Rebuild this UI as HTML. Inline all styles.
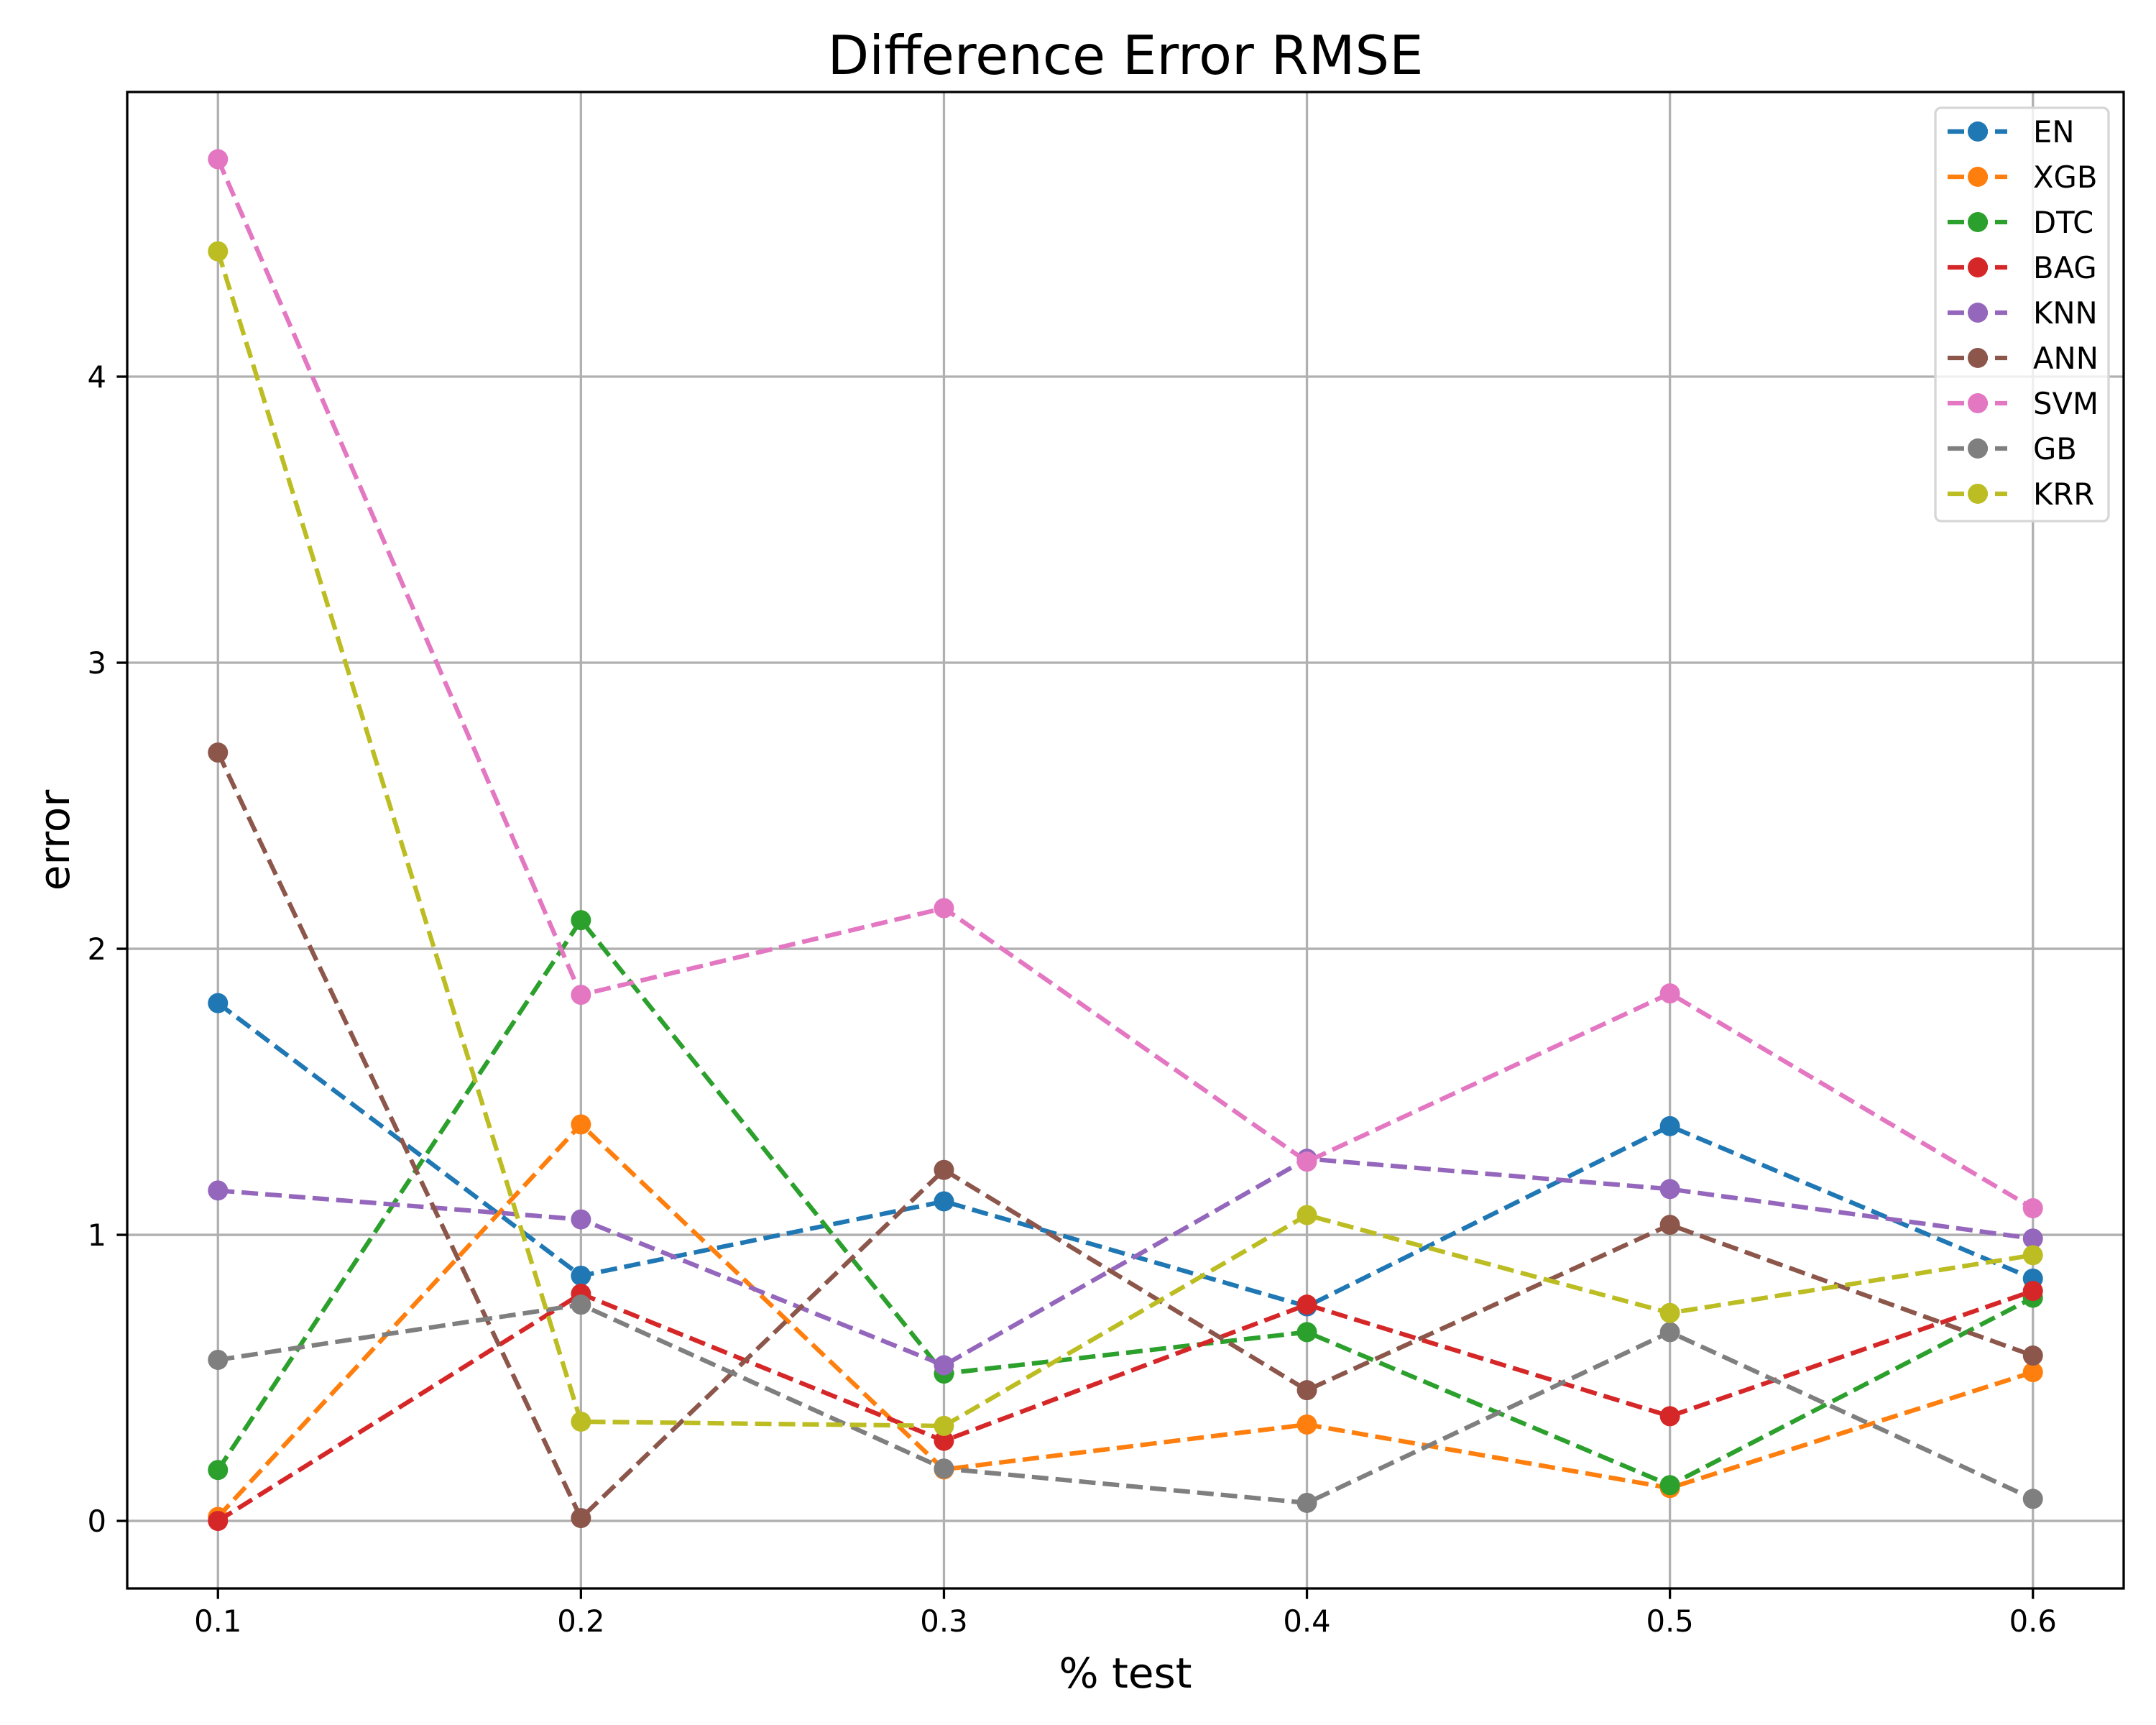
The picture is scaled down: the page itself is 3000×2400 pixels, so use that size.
<!DOCTYPE html>
<html><head><meta charset="utf-8"><style>html,body{margin:0;padding:0;background:#fff}svg{display:block}text{font-family:"DejaVu Sans","Liberation Sans",sans-serif}</style></head>
<body>
<svg id="chart" width="3000" height="2400" viewBox="0 0 3000 2400" xmlns="http://www.w3.org/2000/svg">
<rect x="0" y="0" width="3000" height="2400" fill="#fff"/>
<g id="grid"></g>
<g id="series"></g>
<rect x="177" y="128" width="2778" height="2082" fill="none" stroke="#000" stroke-width="3.3"/>
<g id="ticks"></g>
<text x="1566" y="103" font-size="75" text-anchor="middle">Difference Error RMSE</text>
<text x="1566" y="2348" font-size="58" text-anchor="middle">% test</text>
<text x="0" y="0" font-size="58" text-anchor="middle" transform="translate(96,1169) rotate(-90)">error</text>
<g id="legend"></g>
</svg>
<script>
const xValues = [0.1, 0.2, 0.3, 0.4, 0.5, 0.6];
const xTickLabels = ["0.1","0.2","0.3","0.4","0.5","0.6"];
const yTicks = [0, 1, 2, 3, 4];
const seriesNames = ["EN","XGB","DTC","BAG","KNN","ANN","SVM","GB","KRR"];
const seriesColors = ["#1f77b4","#ff7f0e","#2ca02c","#d62728","#9467bd","#8c564b","#e377c2","#7f7f7f","#bcbd22"];
const EN  = [1.81, 0.857, 1.117, 0.75, 1.38, 0.847];
const XGB = [0.014, 1.386, 0.18, 0.337, 0.115, 0.52];
const DTC = [0.178, 2.10, 0.515, 0.66, 0.125, 0.78];
const BAG = [0.0, 0.794, 0.28, 0.756, 0.366, 0.804];
const KNN = [1.155, 1.054, 0.544, 1.266, 1.16, 0.987];
const ANN = [2.686, 0.01, 1.227, 0.457, 1.035, 0.578];
const SVM = [4.76, 1.839, 2.142, 1.256, 1.844, 1.093];
const GB  = [0.563, 0.756, 0.183, 0.063, 0.66, 0.077];
const KRR = [4.438, 0.347, 0.332, 1.069, 0.727, 0.929];
const seriesData = [EN, XGB, DTC, BAG, KNN, ANN, SVM, GB, KRR];

const NS = "http://www.w3.org/2000/svg";
const L = 177, R = 2955, T = 128, B = 2210;
const xmin = 0.075, xmax = 0.625;
const ymin = -0.236, ymax = 4.995;
function xs(v){ return L + (v - xmin) / (xmax - xmin) * (R - L); }
function ys(v){ return B - (v - ymin) / (ymax - ymin) * (B - T); }
function mk(tag, attrs, parent){ const e = document.createElementNS(NS, tag); for (const k in attrs) e.setAttribute(k, attrs[k]); parent.appendChild(e); return e; }

const grid = document.getElementById('grid');
const ticks = document.getElementById('ticks');
xValues.forEach((v, i) => {
  const x = xs(v);
  const g = mk('line', {x1:x, x2:x, y1:T, y2:B, stroke:'#b0b0b0', 'stroke-width':3.3}, grid);
  
  
  const t = mk('line', {x1:x, x2:x, y1:B, y2:B+14.6, stroke:'#000', 'stroke-width':3.3}, ticks);
  
  
  const lb = mk('text', {x:x, y:B+29+31, 'font-size':41.7, 'text-anchor':'middle'}, ticks);
  lb.textContent = xTickLabels[i];
  
  
});
yTicks.forEach(v => {
  const y = ys(v);
  const g = mk('line', {x1:L, x2:R, y1:y, y2:y, stroke:'#b0b0b0', 'stroke-width':3.3}, grid);
  
  
  const t = mk('line', {x1:L-14.6, x2:L, y1:y, y2:y, stroke:'#000', 'stroke-width':3.3}, ticks);
  
  
  const lb = mk('text', {x:L-29, y:y+15, 'font-size':41.7, 'text-anchor':'end'}, ticks);
  lb.textContent = String(v);
  
  
});

const sg = document.getElementById('series');
seriesData.forEach((arr, si) => {
  const g = mk('g', {}, sg);
  
  
  const pts = arr.map((v, i) => xs(xValues[i]) + ',' + ys(v)).join(' ');
  const pl = mk('polyline', {points:pts, fill:'none', stroke:seriesColors[si], 'stroke-width':6.25, 'stroke-dasharray':'23 10'}, g);
  
  
  arr.forEach((v, i) => {
    const c = mk('circle', {cx:xs(xValues[i]), cy:ys(v), r:14, fill:seriesColors[si]}, g);
    
    
  });
});

const lg = document.getElementById('legend');
const box = mk('rect', {x:2693, y:150, width:241, height:575, rx:8, fill:'#fff', 'fill-opacity':0.8, stroke:'#d6d6d6', 'stroke-width':3.3}, lg);


seriesNames.forEach((n, i) => {
  const y = 183 + i * 63;
  const e = mk('g', {}, lg);
  
  
  mk('line', {x1:2710, x2:2793, y1:y, y2:y, stroke:seriesColors[i], 'stroke-width':6.25, 'stroke-dasharray':'23 10'}, e);
  mk('circle', {cx:2752, cy:y, r:14, fill:seriesColors[i]}, e);
  const t = mk('text', {x:2829, y:y+15, 'font-size':41.7}, e);
  t.textContent = n;
});
</script>
</body></html>
